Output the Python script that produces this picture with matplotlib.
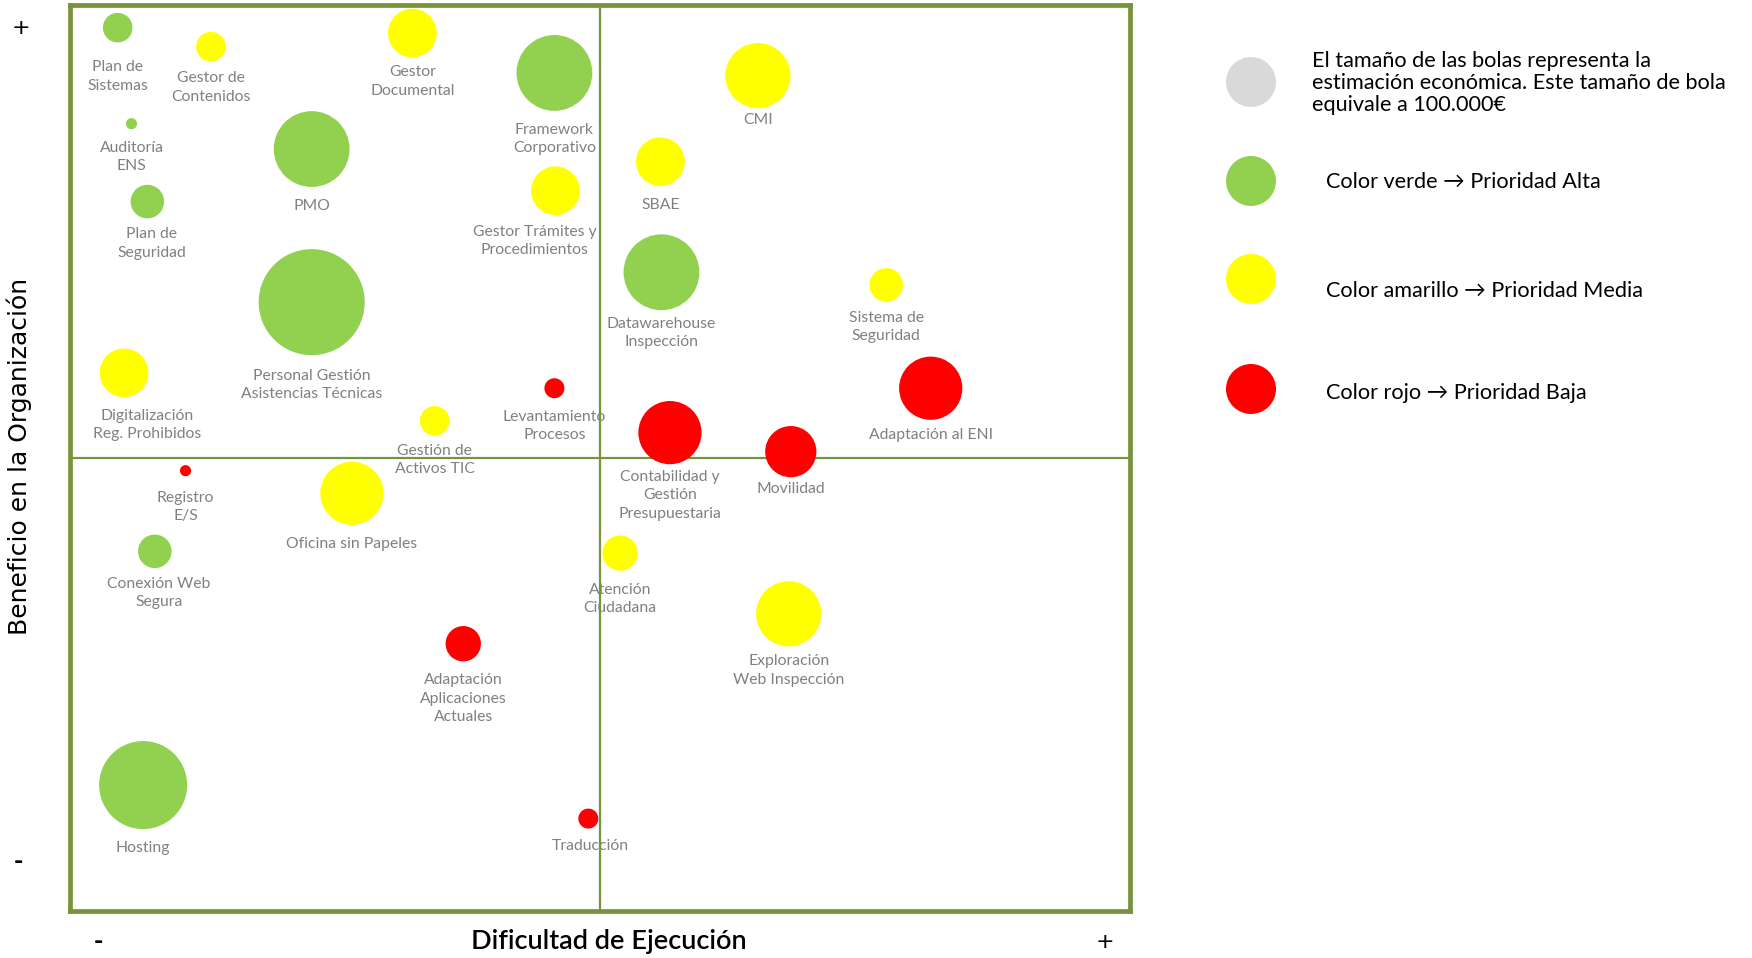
import numpy as np
import matplotlib
matplotlib.use("Agg")
import matplotlib.pyplot as plt

# proyectos: dificultad (x), beneficio (y) en escala 0-100, coste en miles de euros
proyectos = ["Plan de\nSistemas", "Gestor de\nContenidos", "Gestor\nDocumental",
             "Framework\nCorporativo", "CMI", "Auditoría\nENS", "PMO", "SBAE",
             "Plan de\nSeguridad", "Gestor Trámites y\nProcedimientos",
             "Datawarehouse\nInspección", "Sistema de\nSeguridad",
             "Personal Gestión\nAsistencias Técnicas", "Digitalización\nReg. Prohibidos",
             "Levantamiento\nProcesos", "Adaptación al ENI", "Gestión de\nActivos TIC",
             "Contabilidad y\nGestión\nPresupuestaria", "Movilidad", "Registro\nE/S",
             "Oficina sin Papeles", "Conexión Web\nSegura", "Atención\nCiudadana",
             "Exploración\nWeb Inspección", "Adaptación\nAplicaciones\nActuales",
             "Hosting", "Traducción"]
dificultad = [4.5, 13.3, 32.3, 45.7, 64.9, 5.8, 22.8, 55.7, 7.3, 45.8, 55.8, 77.0,
              22.8, 5.1, 45.7, 81.2, 34.4, 56.6, 68.0, 10.9, 26.6, 8.0, 51.9, 67.8,
              37.1, 6.9, 48.9]
beneficio = [97.5, 95.4, 96.9, 92.5, 92.2, 86.9, 84.1, 82.7, 78.3, 79.5, 70.5, 69.1,
             67.2, 59.4, 57.7, 57.7, 54.1, 52.8, 50.7, 48.6, 46.1, 39.7, 39.5, 32.8,
             29.5, 13.9, 10.2]
coste = [35, 35, 95, 230, 170, 5, 230, 95, 45, 95, 230, 45, 450, 95, 16, 160, 35,
         160, 105, 5, 160, 45, 50, 170, 50, 310, 16]
prioridad = ["Alta", "Media", "Media", "Alta", "Media", "Alta", "Alta", "Media", "Alta",
             "Media", "Alta", "Media", "Alta", "Media", "Baja", "Baja", "Media", "Baja",
             "Baja", "Baja", "Media", "Alta", "Media", "Media", "Baja", "Alta", "Baja"]

colores = {"Alta": "#92D050", "Media": "#FFFF00", "Baja": "#FF0000"}
leyenda = ["El tamaño de las bolas representa la\nestimación económica. Este tamaño de bola\nequivale a 100.000€",
           "Color verde → Prioridad Alta",
           "Color amarillo → Prioridad Media",
           "Color rojo → Prioridad Baja"]

# ajuste de algunas etiquetas (px: dx, dy hacia arriba)
nudge = {"Gestor Trámites y\nProcedimientos": (-21, 2), "Digitalización\nReg. Prohibidos": (23, 0),
         "Conexión Web\nSegura": (4, 3), "Plan de\nSeguridad": (4, 3),
         "Plan de\nSistemas": (0, -6), "Gestor de\nContenidos": (0, 2),
         "Gestor\nDocumental": (0, 4), "CMI": (0, 7), "Datawarehouse\nInspección": (0, 5),
         "Sistema de\nSeguridad": (0, 3), "Adaptación al ENI": (0, 4),
         "Gestión de\nActivos TIC": (0, 4), "Contabilidad y\nGestión\nPresupuestaria": (0, 6),
         "Movilidad": (0, 7), "Registro\nE/S": (0, -3), "Exploración\nWeb Inspección": (0, 4),
         "Traducción": (2, 2), "Personal Gestión\nAsistencias Técnicas": (0, -2)}

DPI = 100
def radio_px(c):
    return 25 * np.sqrt(c / 100.0)

def area(c):
    return (2 * radio_px(np.asarray(c, dtype=float)) * 72 / DPI) ** 2

fuente = ["Lato", "DejaVu Sans"]

fig = plt.figure(figsize=(17.52, 9.58), dpi=DPI)
ax = fig.add_axes([70 / 1752, 47 / 958, 1060 / 1752, 906 / 958])
ax.set_xlim(0, 100)
ax.set_ylim(0, 100)
ax.set_xticks([])
ax.set_yticks([])
verde = "#77933C"
for s in ax.spines.values():
    s.set_color(verde)
    s.set_linewidth(3.4)
ax.axvline(50, color=verde, lw=1.6, zorder=2)
ax.axhline(50, color=verde, lw=1.6, zorder=2)

ax.scatter(dificultad, beneficio, s=area(coste), c=[colores[p] for p in prioridad],
           linewidths=0, zorder=3)

for nombre, x, y, c in zip(proyectos, dificultad, beneficio, coste):
    dx, dy = nudge.get(nombre, (0, 0))
    off = (radio_px(c) + 12 - dy) * 72 / DPI
    ax.annotate(nombre, (x, y), xytext=(dx * 72 / DPI, -off),
                textcoords="offset points", ha="center", va="top", fontsize=11.3,
                color="#808080", family=fuente, linespacing=1.38, zorder=1)

fig.text(609 / 1752, 1 - 941 / 958, "Dificultad de Ejecución", ha="center",
         va="center", fontsize=19.5, fontweight="semibold", family=fuente)
fig.text(19 / 1752, 1 - 456 / 958, "Beneficio en la Organización", rotation=90,
         ha="center", va="center", fontsize=18, family="DejaVu Sans")
fig.text(21 / 1752, 1 - 28 / 958, "+", ha="center", va="center", fontsize=16)
fig.text(18 / 1752, 1 - 862 / 958, "-", ha="center", va="center", fontsize=16,
         fontweight="bold")
fig.text(98 / 1752, 1 - 942 / 958, "-", ha="center", va="center", fontsize=16,
         fontweight="bold")
fig.text(1105 / 1752, 1 - 942 / 958, "+", ha="center", va="center", fontsize=16)

# leyenda
lg = fig.add_axes([0, 0, 1, 1], facecolor="none")
lg.set_xlim(0, 1752)
lg.set_ylim(958, 0)
lg.axis("off")
ley_col = ["#D9D9D9", colores["Alta"], colores["Media"], colores["Baja"]]
ley_y = [82, 181, 279, 389]
ley_ty = [83, 182, 291, 393]
ley_tx = [1312, 1326, 1326, 1326]
lg.scatter([1251] * 4, ley_y, s=area([100] * 4), c=ley_col, linewidths=0)
for t, x, y in zip(leyenda, ley_tx, ley_ty):
    lg.text(x, y, t, ha="left", va="center", fontsize=15.6, family=fuente,
            linespacing=1.12)

fig.savefig("out.png", dpi=DPI, facecolor="white")
